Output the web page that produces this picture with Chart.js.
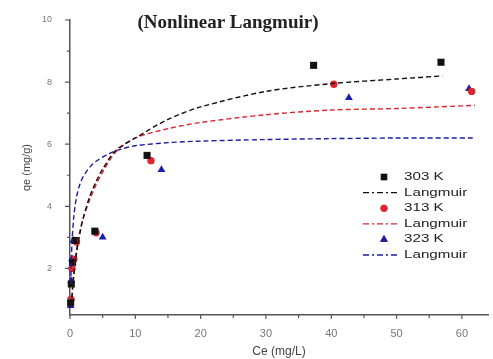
<!DOCTYPE html>
<html>
<head>
<meta charset="utf-8">
<script src="https://cdn.jsdelivr.net/npm/chart.js@4.4.1/dist/chart.umd.min.js"></script>
<style>
  html, body { margin: 0; padding: 0; background: #fff; }
  #wrap { width: 493px; height: 359px; }
</style>
</head>
<body>
<div id="wrap"><canvas id="langmuirChart" width="493" height="359"></canvas></div>
<script>
// experimental points (Ce, qe)
let ce303 = [0.1, 0.2, 0.4, 0.8, 3.8, 11.8, 37.3, 56.8];
let qe303 = [0.9, 1.5, 2.2, 2.9, 3.2, 5.64, 8.54, 8.64];
let ce313 = [0.15, 0.3, 0.6, 1.0, 4.0, 12.4, 40.4, 61.5];
let qe313 = [1.0, 2.0, 2.3, 2.85, 3.15, 5.47, 7.93, 7.7];
let ce323 = [0.1, 0.2, 0.3, 0.5, 5.0, 14.0, 42.7, 61.1];
let qe323 = [0.8, 1.6, 2.3, 2.9, 3.0, 5.18, 7.5, 7.79];

// fitted Langmuir curves
let fitX303 = [0.2, 0.5, 1, 1.5, 2, 3, 4, 5, 7, 10, 15, 20, 30, 40, 50, 57];
let fitY303 = [0.8, 1.6, 2.5, 3.1, 3.6, 4.3, 4.8, 5.2, 5.8, 6.2, 6.8, 7.2, 7.7, 7.95, 8.1, 8.2];
let fitX313 = [0.2, 0.5, 1, 1.5, 2, 3, 4, 5, 7, 10, 15, 20, 30, 40, 50, 62];
let fitY313 = [0.8, 1.7, 2.6, 3.2, 3.6, 4.2, 4.7, 5.1, 5.75, 6.2, 6.5, 6.7, 6.95, 7.1, 7.15, 7.25];
let fitX323 = [0.1, 0.3, 0.6, 1, 1.5, 2, 3, 4, 6, 8, 10, 15, 20, 30, 40, 50, 62];
let fitY323 = [1.5, 2.8, 3.7, 4.3, 4.7, 4.95, 5.25, 5.45, 5.7, 5.85, 5.95, 6.05, 6.1, 6.15, 6.18, 6.2, 6.2];

let xTicks = [0, 10, 20, 30, 40, 50, 60];
let xMinor = [5, 15, 25, 35, 45, 55];
let yTicks = [2, 4, 6, 8, 10];
let yMinor = [1, 3, 5, 7, 9];

let legendLabels = ["303 K", "Langmuir", "313 K", "Langmuir", "323 K", "Langmuir"];
let chartTitle = "(Nonlinear Langmuir)";

let black = "#111111";
let red = "#e0252f";
let blue = "#1c1ca8";

function toPoints(xs, ys) {
    let pts = [];
    for (let i = 0; i < xs.length; i++) {
        pts.push({x: xs[i], y: ys[i]});
    }
    return pts;
}

function pointSet(label, xs, ys, color, style, r) {
    return {
        label: label,
        data: toPoints(xs, ys),
        showLine: false,
        pointStyle: style,
        pointRadius: r,
        backgroundColor: color,
        borderColor: color,
        borderWidth: 0
    };
}

function fitSet(label, xs, ys, color) {
    return {
        label: label,
        data: toPoints(xs, ys),
        showLine: true,
        pointRadius: 0,
        borderColor: color,
        borderWidth: 1.4,
        borderDash: [5, 3],
        tension: 0.3,
        fill: false
    };
}

// minor/major tick marks, drawn through the scales
let tickMarks = {
    id: "tickMarks",
    afterDraw(chart) {
        let ctx = chart.ctx;
        let xs = chart.scales.x;
        let ys = chart.scales.y;
        let area = chart.chartArea;
        ctx.save();
        ctx.strokeStyle = "#555";
        ctx.lineWidth = 1.2;
        ctx.beginPath();
        xTicks.concat(xMinor).forEach(v => {
            let px = xs.getPixelForValue(v);
            let len = xTicks.includes(v) ? 4 : 3;
            ctx.moveTo(px, area.bottom);
            ctx.lineTo(px, area.bottom + len);
        });
        yTicks.concat(yMinor).forEach(v => {
            let py = ys.getPixelForValue(v);
            let len = yTicks.includes(v) ? 5 : 3;
            ctx.moveTo(area.left, py);
            ctx.lineTo(area.left - len, py);
        });
        ctx.stroke();
        ctx.restore();
    }
};

let titleAndLegend = {
    id: "titleAndLegend",
    afterDraw(chart) {
        let ctx = chart.ctx;
        ctx.save();
        ctx.fillStyle = "#222";
        ctx.font = "bold 19px 'Liberation Serif', 'Times New Roman', serif";
        ctx.textAlign = "center";
        ctx.textBaseline = "alphabetic";
        ctx.fillText(chartTitle, 228, 28);

        let colors = [black, black, red, red, blue, blue];
        let styles = ["rect", null, "circle", null, "triangle", null];
        let y0 = 177;
        let step = 15.6;
        for (let i = 0; i < legendLabels.length; i++) {
            let y = y0 + i * step;
            if (styles[i]) {
                ctx.fillStyle = colors[i];
                let r = styles[i] == "rect" ? 4.5 : (styles[i] == "circle" ? 3.5 : 4.5);
                Chart.helpers.drawPoint(ctx, {pointStyle: styles[i], radius: r, borderWidth: 0}, 384, y);
                ctx.fill();
            } else {
                ctx.strokeStyle = colors[i];
                ctx.lineWidth = 1.3;
                ctx.setLineDash([6, 3, 2, 3]);
                ctx.beginPath();
                ctx.moveTo(363, y);
                ctx.lineTo(398, y);
                ctx.stroke();
                ctx.setLineDash([]);
            }
            ctx.save();
            ctx.translate(404, y);
            ctx.scale(1.38, 1);
            ctx.fillStyle = "#222";
            ctx.font = "11px 'Liberation Sans', Arial, sans-serif";
            ctx.textAlign = "left";
            ctx.textBaseline = "middle";
            ctx.fillText(legendLabels[i], 0, 0);
            ctx.restore();
        }
        ctx.restore();
    }
};

new Chart(document.querySelector("#langmuirChart"), {
    type: "scatter",
    data: {
        datasets: [
            fitSet("Langmuir 303", fitX303, fitY303, black),
            fitSet("Langmuir 313", fitX313, fitY313, red),
            fitSet("Langmuir 323", fitX323, fitY323, blue),
            pointSet("303 K", ce303, qe303, black, "rect", 5),
            pointSet("313 K", ce313, qe313, red, "circle", 3.7),
            pointSet("323 K", ce323, qe323, blue, "triangle", 4.5)
        ]
    },
    options: {
        responsive: false,
        animation: false,
        clip: false,
        layout: {padding: {top: 20, right: 0, left: 0, bottom: 0}},
        plugins: {
            legend: {display: false},
            title: {display: false},
            tooltip: {enabled: false}
        },
        scales: {
            x: {
                type: "linear",
                min: 0,
                max: 64,
                afterBuildTicks: (axis) => { axis.ticks = xTicks.map(v => ({value: v})); },
                afterFit: (axis) => { axis.height = 44; },
                grid: {display: false},
                border: {display: true, color: "#555", width: 1.5},
                ticks: {
                    color: "#777",
                    padding: 4,
                    maxRotation: 0,
                    font: {family: "'Liberation Sans', Arial, sans-serif", size: 11}
                },
                title: {
                    display: true,
                    text: "Ce (mg/L)",
                    color: "#444",
                    padding: {top: 4, bottom: 0},
                    font: {family: "'Liberation Sans', Arial, sans-serif", size: 12}
                }
            },
            y: {
                type: "linear",
                min: 0.5,
                max: 10,
                afterBuildTicks: (axis) => { axis.ticks = yTicks.map(v => ({value: v})); },
                afterFit: (axis) => { axis.width = 70; },
                grid: {display: false},
                border: {display: true, color: "#555", width: 1.5},
                ticks: {
                    color: "#777",
                    padding: 10,
                    font: {family: "'Liberation Sans', Arial, sans-serif", size: 9}
                },
                title: {
                    display: true,
                    text: "qe (mg/g)",
                    color: "#444",
                    padding: {top: 20, bottom: 0},
                    font: {family: "'Liberation Sans', Arial, sans-serif", size: 11}
                }
            }
        }
    },
    plugins: [tickMarks, titleAndLegend]
});
</script>
</body>
</html>
